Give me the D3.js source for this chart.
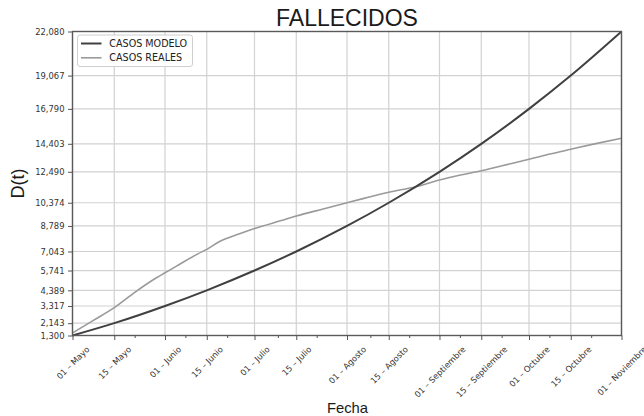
<!DOCTYPE html>
<html>
<head>
<meta charset="utf-8">
<script src="https://cdn.jsdelivr.net/npm/d3@7"></script>
<style>
  html, body { margin: 0; padding: 0; background: #fff; }
  svg { display: block; }
</style>
</head>
<body>
<svg id="chart" width="644" height="416"></svg>
<script>
// Major date ticks (every 1st and 15th) and their labels
const tickDates = ["2020-05-01", "2020-05-15", "2020-06-01", "2020-06-15", "2020-07-01",
  "2020-07-15", "2020-08-01", "2020-08-15", "2020-09-01", "2020-09-15", "2020-10-01",
  "2020-10-15", "2020-11-01"];
const tickLabels = ["01 – Mayo", "15 – Mayo", "01 – Junio", "15 – Junio", "01 – Julio",
  "15 – Julio", "01 – Agosto", "15 – Agosto", "01 – Septiembre", "15 – Septiembre",
  "01 – Octubre", "15 – Octubre", "01 – Noviembre"];
const minorTickDates = ["2020-05-22", "2020-06-08", "2020-06-22", "2020-07-09", "2020-07-22",
  "2020-08-09", "2020-08-22", "2020-09-08", "2020-09-22", "2020-10-08", "2020-10-22"];

// Model deaths, evaluated on the tick dates
const modelDates = tickDates;
const modelValues = [1300, 2143, 3317, 4389, 5741, 7043, 8789, 10374, 12490, 14403, 16790, 19067, 22080];

// Y ticks sit on the model values
const yTickValues = [1300, 2143, 3317, 4389, 5741, 7043, 8789, 10374, 12490, 14403, 16790, 19067, 22080];

// Reported deaths
const realDates = ["2020-05-01", "2020-05-08", "2020-05-15", "2020-05-22", "2020-05-29",
  "2020-06-01", "2020-06-05", "2020-06-12", "2020-06-15", "2020-06-19", "2020-06-26",
  "2020-07-01", "2020-07-10", "2020-07-15", "2020-07-24", "2020-08-01", "2020-08-07",
  "2020-08-15", "2020-08-24", "2020-09-01", "2020-09-08", "2020-09-15", "2020-09-22",
  "2020-10-01", "2020-10-08", "2020-10-15", "2020-10-23", "2020-11-01"];
const realValues = [1470, 2330, 3200, 4270, 5230, 5585, 6060, 6880, 7190, 7690, 8250,
  8610, 9160, 9466, 9950, 10376, 10690, 11095, 11471, 11930, 12265, 12566, 12908,
  13346, 13703, 14030, 14400, 14784];

const parse = d3.utcParse("%Y-%m-%d");
const plot = { left: 72.5, right: 621.5, top: 31.5, bottom: 335.5 };

const svg = d3.select("#chart");

const x = d3.scaleUtc()
  .domain([parse("2020-05-01"), parse("2020-11-01")])
  .range([plot.left, plot.right]);
const y = d3.scaleLinear()
  .domain([1300, 22080])
  .range([plot.bottom, plot.top]);

const tickDateObjs = tickDates.map(parse);

// Grid
const grid = svg.append("g").attr("stroke", "#d2d2d2").attr("stroke-width", 1.2);
grid.selectAll("line.vx").data(tickDateObjs).join("line")
  .attr("x1", d => x(d)).attr("x2", d => x(d))
  .attr("y1", plot.top).attr("y2", plot.bottom);
grid.selectAll("line.hy").data(yTickValues).join("line")
  .attr("x1", plot.left).attr("x2", plot.right)
  .attr("y1", d => y(d)).attr("y2", d => y(d));

// Series
const line = (dates, values) => d3.line()
  .x((d, i) => x(parse(dates[i])))
  .y(d => y(d))
  .curve(d3.curveMonotoneX)(values);

svg.append("path")
  .attr("d", line(realDates, realValues))
  .attr("fill", "none").attr("stroke", "#9a9a9a").attr("stroke-width", 1.6);
svg.append("path")
  .attr("d", line(modelDates, modelValues))
  .attr("fill", "none").attr("stroke", "#404040").attr("stroke-width", 2);

// Frame
svg.append("rect")
  .attr("x", plot.left).attr("y", plot.top)
  .attr("width", plot.right - plot.left).attr("height", plot.bottom - plot.top)
  .attr("fill", "none").attr("stroke", "#5a5a5a").attr("stroke-width", 1.4);

// Y axis
const yAxis = svg.append("g")
  .attr("transform", `translate(${plot.left},0)`)
  .call(d3.axisLeft(y).tickValues(yTickValues).tickFormat(d3.format(",")).tickSize(4.5).tickPadding(3.5));
yAxis.select(".domain").remove();
yAxis.selectAll(".tick line").attr("stroke", "#555").attr("stroke-width", 1);
yAxis.selectAll("text")
  .attr("font-family", "DejaVu Sans").attr("font-size", 8.4).attr("fill", "#333");

// X axis
const xAxis = svg.append("g")
  .attr("transform", `translate(0,${plot.bottom})`)
  .call(d3.axisBottom(x).tickValues(tickDateObjs).tickFormat((d, i) => tickLabels[i]).tickSize(4.5));
xAxis.select(".domain").remove();
xAxis.selectAll(".tick line").attr("stroke", "#555").attr("stroke-width", 1);
const fs = 8.3;
xAxis.selectAll(".tick text")
  .attr("font-family", "DejaVu Sans").attr("font-size", fs).attr("fill", "#333")
  .attr("text-anchor", "middle").attr("y", 0).attr("dy", "0.35em")
  .each(function () {
    const L = this.getComputedTextLength();
    const side = (L + fs * 0.95) / Math.SQRT2;
    d3.select(this).attr("transform", `translate(0,${9.5 + side / 2}) rotate(-45)`);
  });

// Minor ticks
svg.append("g").attr("stroke", "#555").attr("stroke-width", 1)
  .selectAll("line").data(minorTickDates.map(parse)).join("line")
  .attr("x1", d => x(d)).attr("x2", d => x(d))
  .attr("y1", plot.bottom).attr("y2", plot.bottom + 2.5);

// Titles
svg.append("text")
  .attr("x", (plot.left + plot.right) / 2).attr("y", 25.8)
  .attr("text-anchor", "middle")
  .attr("font-family", "Liberation Sans, Arial, sans-serif").attr("font-size", 23)
  .attr("fill", "#1a1a1a").text("FALLECIDOS");
svg.append("text")
  .attr("transform", `translate(24,${(plot.top + plot.bottom) / 2}) rotate(-90)`)
  .attr("text-anchor", "middle")
  .attr("font-family", "Liberation Sans, Arial, sans-serif").attr("font-size", 18)
  .attr("fill", "#1a1a1a").text("D(t)");
svg.append("text")
  .attr("x", 347.5).attr("y", 413)
  .attr("text-anchor", "middle")
  .attr("font-family", "Liberation Sans, Arial, sans-serif").attr("font-size", 14.8)
  .attr("fill", "#1a1a1a").text("Fecha");

// Legend
const legendItems = [
  { label: "CASOS MODELO", color: "#404040", width: 2 },
  { label: "CASOS REALES", color: "#9a9a9a", width: 1.6 }
];
const legend = svg.append("g");
legend.append("rect")
  .attr("x", 77.5).attr("y", 35).attr("width", 115).attr("height", 31.5)
  .attr("rx", 2.5).attr("fill", "#fff").attr("fill-opacity", 0.85)
  .attr("stroke", "#cfcfcf").attr("stroke-width", 1);
legendItems.forEach((it, i) => {
  const ly = 43.5 + i * 14.3;
  legend.append("line")
    .attr("x1", 81).attr("x2", 101.5).attr("y1", ly).attr("y2", ly)
    .attr("stroke", it.color).attr("stroke-width", it.width);
  legend.append("text")
    .attr("x", 109.3).attr("y", ly).attr("dy", "0.36em")
    .attr("font-family", "DejaVu Sans").attr("font-size", 9.6)
    .attr("fill", "#222").text(it.label);
});
</script>
</body>
</html>
